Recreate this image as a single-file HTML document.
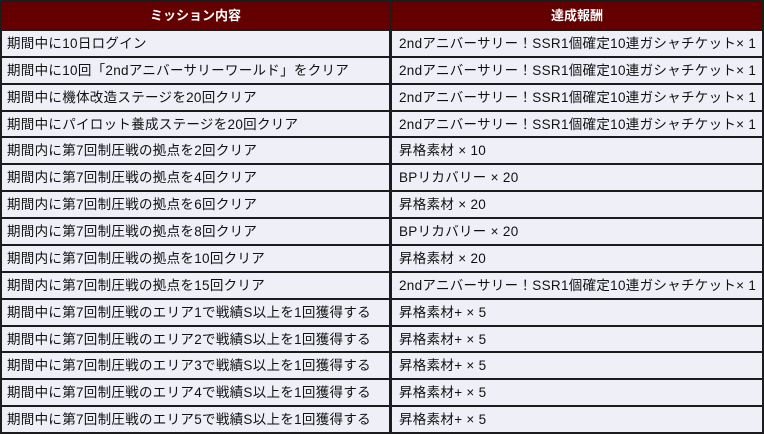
<!DOCTYPE html>
<html><head><meta charset="utf-8"><style>
body{margin:0;width:764px;height:434px;background:#fff;overflow:hidden}
.t{position:absolute;left:0;top:0;width:764px;height:434px;background:#1c1c1c}
.c{position:absolute;background:#efeff7;font:13.5px "Liberation Sans","Noto Sans CJK JP",sans-serif;letter-spacing:0.3px;color:#111;line-height:25px;padding-left:5px;box-sizing:border-box;white-space:nowrap}
.h{position:absolute;background:#640000;color:#fff;font:bold 13px "Liberation Sans","Noto Sans CJK JP",sans-serif;text-align:center;line-height:28px}
</style></head><body><div class="t" id="t">
<div class="h" style="left:2px;top:2px;width:387px;height:27px">ミッション内容</div>
<div class="h" style="left:392px;top:2px;width:370px;height:27px">達成報酬</div>
</div>
<script>
var rows=[
["期間中に10日ログイン","2ndアニバーサリー！SSR1個確定10連ガシャチケット× 1"],
["期間中に10回「2ndアニバーサリーワールド」をクリア","2ndアニバーサリー！SSR1個確定10連ガシャチケット× 1"],
["期間中に機体改造ステージを20回クリア","2ndアニバーサリー！SSR1個確定10連ガシャチケット× 1"],
["期間中にパイロット養成ステージを20回クリア","2ndアニバーサリー！SSR1個確定10連ガシャチケット× 1"],
["期間内に第7回制圧戦の拠点を2回クリア","昇格素材 × 10"],
["期間内に第7回制圧戦の拠点を4回クリア","BPリカバリー × 20"],
["期間内に第7回制圧戦の拠点を6回クリア","昇格素材 × 20"],
["期間内に第7回制圧戦の拠点を8回クリア","BPリカバリー × 20"],
["期間内に第7回制圧戦の拠点を10回クリア","昇格素材 × 20"],
["期間内に第7回制圧戦の拠点を15回クリア","2ndアニバーサリー！SSR1個確定10連ガシャチケット× 1"],
["期間中に第7回制圧戦のエリア1で戦績S以上を1回獲得する","昇格素材+ × 5"],
["期間中に第7回制圧戦のエリア2で戦績S以上を1回獲得する","昇格素材+ × 5"],
["期間中に第7回制圧戦のエリア3で戦績S以上を1回獲得する","昇格素材+ × 5"],
["期間中に第7回制圧戦のエリア4で戦績S以上を1回獲得する","昇格素材+ × 5"],
["期間中に第7回制圧戦のエリア5で戦績S以上を1回獲得する","昇格素材+ × 5"]];
var t=document.getElementById('t'),h='';
for(var i=0;i<15;i++){var y=Math.round(31+i*26.87),y2=Math.round(31+(i+1)*26.87)-2;
h+='<div class="c" style="left:2px;top:'+y+'px;width:387px;height:'+(y2-y)+'px">'+rows[i][0]+'</div>';
h+='<div class="c" style="left:392px;top:'+y+'px;width:370px;height:'+(y2-y)+'px;padding-left:7px">'+rows[i][1]+'</div>';}
t.insertAdjacentHTML('beforeend',h);
</script></body></html>
